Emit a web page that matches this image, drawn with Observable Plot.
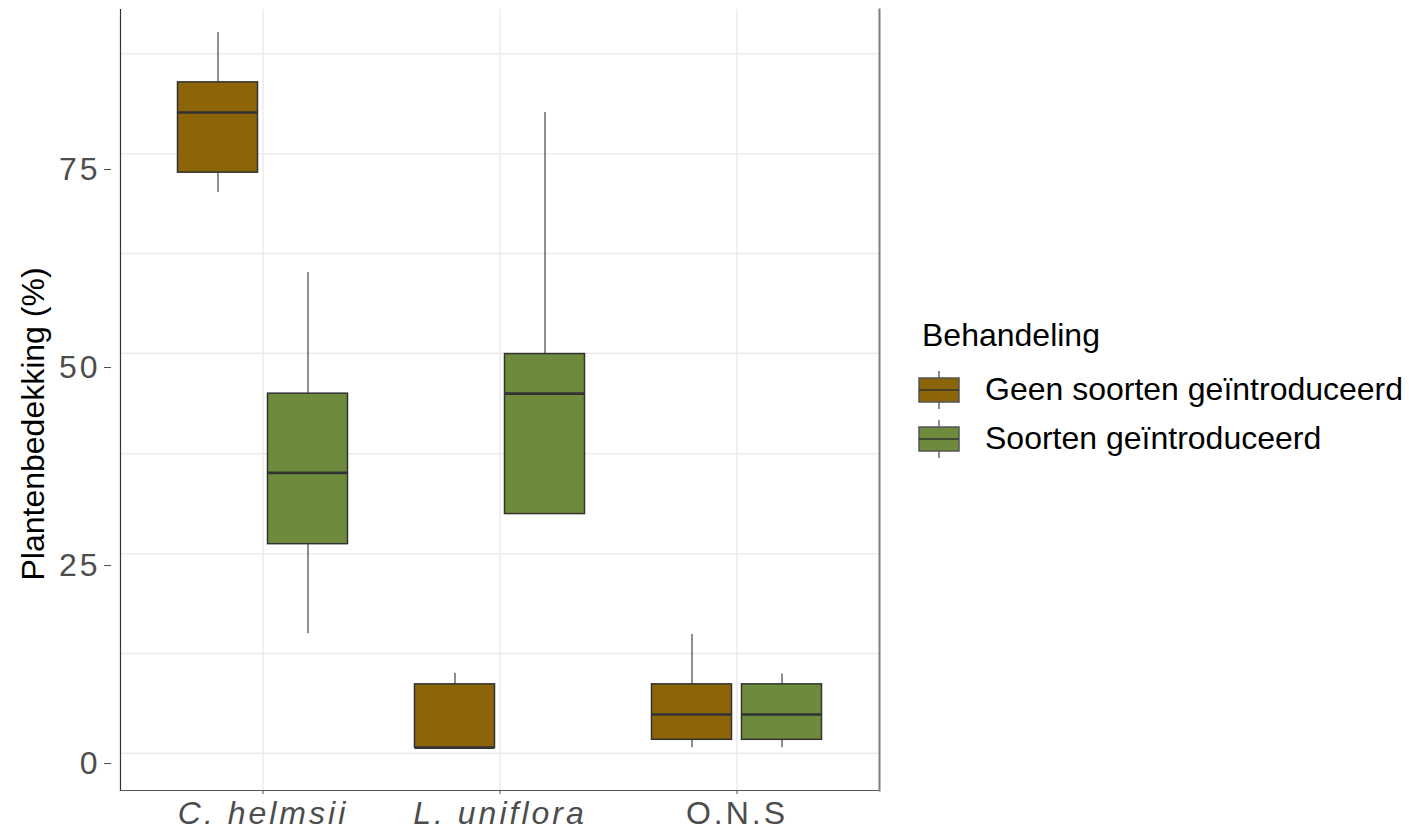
<!DOCTYPE html>
<html>
<head>
<meta charset="utf-8">
<script src="https://cdn.jsdelivr.net/npm/d3@7"></script>
<script src="https://cdn.jsdelivr.net/npm/@observablehq/plot@0.6"></script>
<style>
  body { margin: 0; background: #fff; font-family: "Liberation Sans", Arial, sans-serif; }
  #wrap { position: relative; width: 1409px; height: 830px; }
  #legend { position: absolute; left: 918px; top: 315px; color: #000; font-size: 32px; }
  #legend .title { margin-left: 4px; line-height: 40px; margin-bottom: 10px; }
  #legend .row { display: flex; align-items: center; height: 49px; }
  #legend .row svg { margin-right: 25px; }
  .xax text { letter-spacing: 3px; }
  .yax text { letter-spacing: 3px; }
</style>
</head>
<body>
<div id="wrap">
  <div id="chart"></div>
  <div id="legend"></div>
</div>
<script>
// ---- data ----
const categories = ["C. helmsii", "L. uniflora", "O.N.S"];
const groups = ["Geen soorten geïntroduceerd", "Soorten geïntroduceerd"];
const colors = ["#8B6508", "#6E8B3D"];
const legendTitle = "Behandeling";
const yTitle = "Plantenbedekking (%)";
const yTicks = [0, 25, 50, 75];
const gridValues = [1.3, 13.9, 26.5, 39.1, 51.8, 64.4, 77.0, 89.6];

// per group, per category
const whiskerLow_geen = [72.1, 2.0, 2.0];
const q1_geen         = [74.6, 2.0, 3.0];
const median_geen     = [82.2, 2.0, 6.2];
const q3_geen         = [86.0, 10.0, 10.0];
const whiskerHigh_geen= [92.3, 11.4, 16.3];

const whiskerLow_soort = [16.4, 31.5, 2.0];
const q1_soort         = [27.7, 31.5, 3.0];
const median_soort     = [36.7, 46.7, 6.2];
const q3_soort         = [46.7, 51.7, 10.0];
const whiskerHigh_soort= [62.0, 82.2, 11.3];

const mk = (g, lo, a, m, b, hi) => categories.map((c, i) => ({
  cat: c, group: g, lo: lo[i], q1: a[i], med: m[i], q3: b[i], hi: hi[i]
}));
const geen = mk(groups[0], whiskerLow_geen, q1_geen, median_geen, q3_geen, whiskerHigh_geen);
const soort = mk(groups[1], whiskerLow_soort, q1_soort, median_soort, q3_soort, whiskerHigh_soort);

// dodge geometry (pixels within a 237px band)
const off = 45, half = 40, bw = 237;
const inL = [bw/2 - off - half, bw/2 + off - half];
const inR = [bw/2 + off - half, bw/2 - off - half];

function boxMarks(data, gi) {
  const dx = gi === 0 ? -off : off;
  return [
    Plot.ruleX(data, {x: "cat", y1: "q3", y2: "hi", stroke: "#333", strokeWidth: 1.1, dx}),
    Plot.ruleX(data, {x: "cat", y1: "lo", y2: "q1", stroke: "#333", strokeWidth: 1.1, dx}),
    Plot.barY(data, {x: "cat", y1: "q1", y2: "q3", fill: "group", stroke: "#333", strokeWidth: 1.5,
      insetLeft: inL[gi], insetRight: inR[gi]}),
    Plot.tickY(data, {x: "cat", y: "med", stroke: "#333", strokeWidth: 2.6,
      insetLeft: inL[gi], insetRight: inR[gi]})
  ];
}

const chart = Plot.plot({
  width: 1409,
  height: 830,
  marginLeft: 120,
  marginRight: 530,
  marginTop: 9,
  marginBottom: 40,
  style: {fontFamily: "'Liberation Sans', Arial, sans-serif", background: "#fff"},
  x: {type: "band", domain: categories, paddingInner: 0, paddingOuter: 0.1, label: null},
  y: {domain: [-3.4, 95.2], label: null},
  color: {domain: groups, range: colors},
  marks: [
    Plot.ruleY(gridValues, {stroke: "#ebebeb", strokeWidth: 1.5}),
    Plot.gridX({stroke: "#ebebeb", strokeOpacity: 1, strokeWidth: 1.5}),
    ...boxMarks(geen, 0),
    ...boxMarks(soort, 1),
    Plot.frame({anchor: "left", stroke: "#333", strokeWidth: 1.2}),
    Plot.frame({anchor: "bottom", stroke: "#555", strokeWidth: 1.2}),
    Plot.frame({anchor: "right", stroke: "#7f7f7f", strokeWidth: 2}),
    Plot.axisY({ticks: yTicks, tickSize: 7, tickPadding: 4, dx: -9, fontSize: 32,
      color: "#4d4d4d", stroke: "#4d4d4d", label: null, className: "yax"}),
    Plot.axisX({tickSize: 4, tickPadding: 7, fontSize: 32,
      color: "#4d4d4d", stroke: "#4d4d4d", label: null, className: "xax"}),
    Plot.text([yTitle], {frameAnchor: "left", textAnchor: "middle", rotate: -90, dx: -87, dy: 24, fontSize: 32, fill: "#000"})
  ]
});
document.getElementById("chart").appendChild(chart);

// italicise the species names
d3.select(chart).selectAll(".xax text").each(function() {
  const t = d3.select(this).text();
  if (t !== "O.N.S") d3.select(this).attr("font-style", "italic");
});

// ---- legend ----
const leg = d3.select("#legend");
leg.append("div").attr("class", "title").text(legendTitle);
groups.forEach((g, i) => {
  const row = leg.append("div").attr("class", "row");
  const s = row.append("svg").attr("width", 42).attr("height", 40);
  s.append("line").attr("x1", 21).attr("x2", 21).attr("y1", 1).attr("y2", 39).attr("stroke", "#333").attr("stroke-width", 1.1);
  s.append("rect").attr("x", 1).attr("y", 8).attr("width", 40).attr("height", 24)
    .attr("fill", colors[i]).attr("stroke", "#555").attr("stroke-width", 1.5);
  s.append("line").attr("x1", 1).attr("x2", 41).attr("y1", 20).attr("y2", 20).attr("stroke", "#333").attr("stroke-width", 1.5);
  row.append("span").text(g);
});
</script>
</body>
</html>
